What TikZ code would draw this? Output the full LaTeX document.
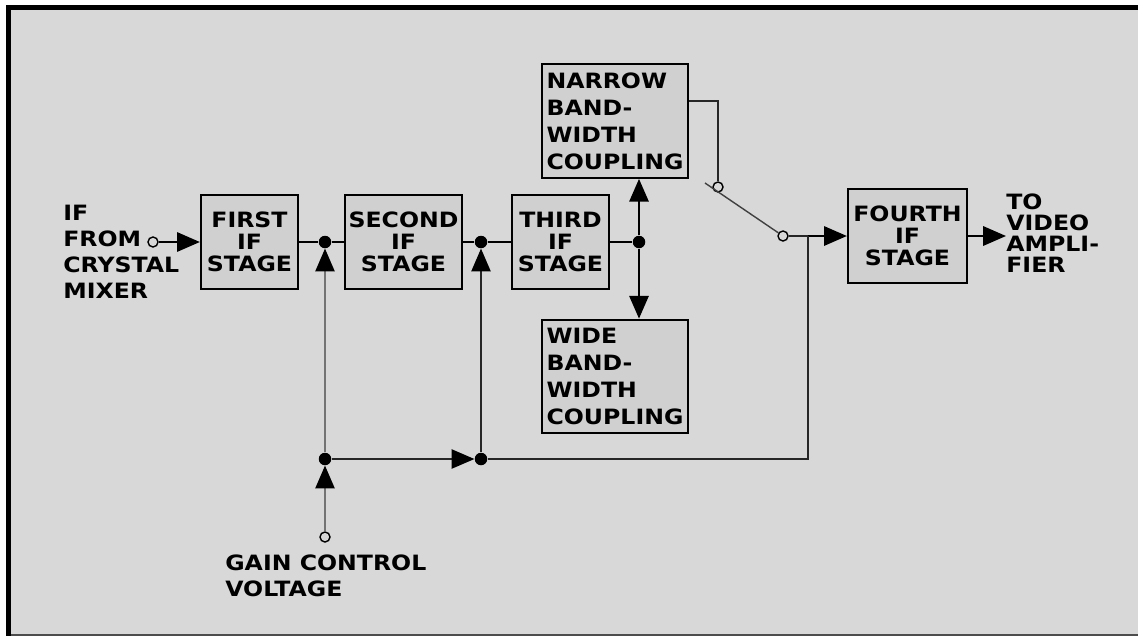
\documentclass[tikz,border=0pt]{standalone}
\usepackage{fontspec}
\setmainfont{DejaVu Sans}[FakeStretch=1.12]
\usepackage{tikz}
\usetikzlibrary{arrows.meta, positioning, calc}
\definecolor{panel}{HTML}{D8D8D8}
\definecolor{stagefill}{HTML}{D0D0D0}

\begin{document}
\begin{tikzpicture}[x=0.02cm, y=-0.02cm,
    stage/.style={rectangle, draw=black, line width=1.3pt, fill=stagefill,
                  minimum width=#1, minimum height=1.88cm, inner sep=0pt, align=center,
                  font=\fontsize{12}{12.5}\selectfont\bfseries},
    stage/.default=1.94cm,
    coupling/.style={stage=2.92cm, minimum height=2.27cm, align=left,
                  font=\fontsize{12}{15.3}\selectfont\bfseries},
    lbl/.style={inner sep=0pt, align=left, font=\fontsize{12}{14.7}\selectfont\bfseries},
    dot/.style={circle, fill=black, inner sep=0pt, minimum size=0.25cm},
    term/.style={circle, draw=black, line width=0.8pt, fill=panel, inner sep=0pt, minimum size=0.2cm},
    wire/.style={line width=1.2pt, black},
    thinwire/.style={line width=0.8pt, black!85},
    ctl/.style={line width=0.8pt, black!55},
    sig/.style={-{Triangle[length=13pt, width=11pt, color=black]}, line width=1.2pt, black}
]
\fill[black] (6,5) rectangle (1138,10);
\fill[black] (6,5) rectangle (11,636);
\fill[panel] (11,10) rectangle (1138,634);
\fill[black!70] (11,634) rectangle (1138,636);
\useasboundingbox (0,0) rectangle (1138,636);

\node[stage] (first) at (249.5,242) {FIRST\\IF\\STAGE};
\node[stage=2.34cm] (second) at (403.5,242) {SECOND\\IF\\STAGE};
\node[stage] (third) at (560.5,242) {THIRD\\IF\\STAGE};
\node[stage=2.38cm] (fourth) at (907.5,236) {FOURTH\\IF\\STAGE};
\node[coupling] (narrow) at (615,121) {NARROW\\BAND-\\WIDTH\\COUPLING};
\node[coupling] (wide) at (615,376.5) {WIDE\\BAND-\\WIDTH\\COUPLING};

\node[dot] (j1) at (325,242) {};
\node[dot] (j2) at (481,242) {};
\node[dot] (j3) at (639,242) {};
\node[dot] (j5) at (325,459) {};
\node[dot] (j6) at (481,459) {};

\node[term] (inT) at (153,242) {};
\node[term] (c1) at (718,187) {};
\node[term] (c2) at (783,236) {};
\node[term] (gT) at (325,537) {};
\coordinate (tap) at (808,236);
\coordinate (bladeEnd) at (705,183);

\node[lbl, anchor=west] (src) at (63,252) {IF\\FROM\\CRYSTAL\\MIXER};
\node[lbl, anchor=west, font=\fontsize{12}{12}\selectfont\bfseries] (dest) at (1006,233) {TO\\VIDEO\\AMPLI-\\FIER};
\node[lbl, anchor=west] (gain) at (225,576) {GAIN CONTROL\\VOLTAGE};

\draw[sig] (inT) -- (first);
\draw[wire] (first) -- (j1) -- (second);
\draw[wire] (second) -- (j2) -- (third);
\draw[wire] (third) -- (j3);
\draw[sig] (j3) -- (j3 |- narrow.south);
\draw[sig] (j3) -- (j3 |- wide.north);
\draw[thinwire] ([yshift=0.4cm]narrow.east) -| (c1);
\draw[thinwire, black!75] (c2) -- (bladeEnd);
\draw[thinwire] (c2) -- (tap);
\draw[sig] (tap) -- (fourth);
\draw[sig] (fourth) -- (fourth.east -| dest.west);
\draw[sig, ctl] (gT) -- (j5);
\draw[sig, ctl] (j5) -- (j1);
\draw[sig, thinwire] (j5) -- (j6);
\draw[sig, thinwire] (j6) -- (j2);
\draw[thinwire] (j6) -| (tap);
\end{tikzpicture}
\end{document}
